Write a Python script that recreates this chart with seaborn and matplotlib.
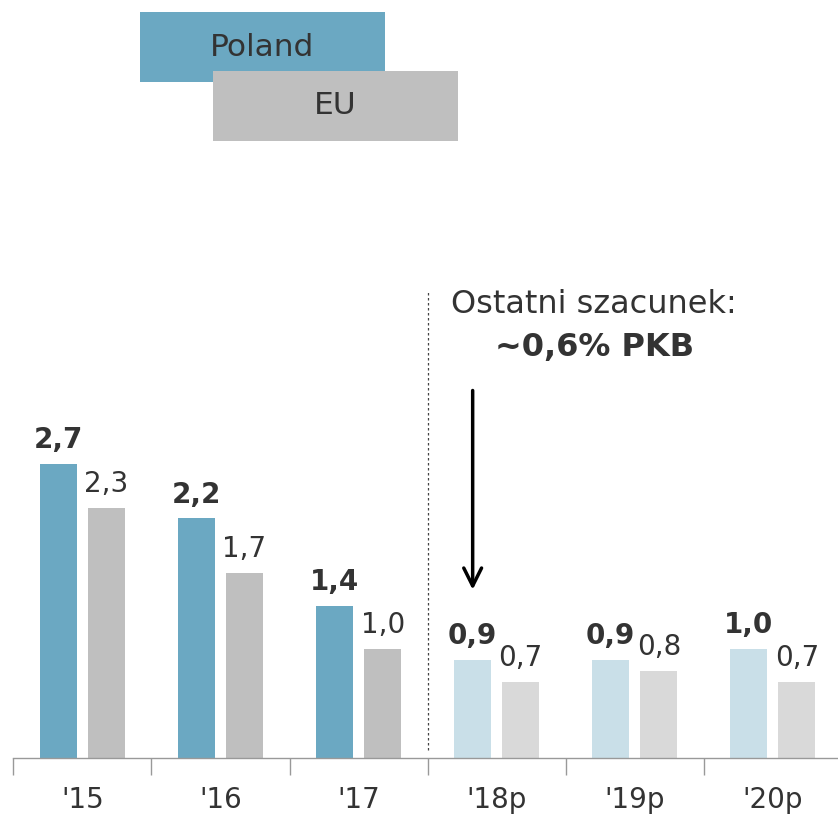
import matplotlib
matplotlib.use('Agg')

import seaborn as sns
import matplotlib.pyplot as plt
import pandas as pd
from matplotlib.patches import Rectangle

years = ["'15", "'16", "'17", "'18p", "'19p", "'20p"]
poland = [2.7, 2.2, 1.4, 0.9, 0.9, 1.0]
eu = [2.3, 1.7, 1.0, 0.7, 0.8, 0.7]
forecast = [False, False, False, True, True, True]

POLAND_COLOR = '#6ba8c2'
EU_COLOR = '#bfbfbf'
POLAND_LIGHT = '#c9dfe8'
EU_LIGHT = '#d9d9d9'
TEXT_COLOR = '#333333'

W, H = 838, 817


def fig_box(x0, y0, x1, y1):
    # pixel box (top-left origin) -> figure fraction
    return x0 / W, 1 - y1 / H, (x1 - x0) / W, (y1 - y0) / H


if __name__ == "__main__":
    sns.set_theme(style='white')
    plt.rcParams['font.family'] = ['DejaVu Sans']

    df = pd.DataFrame({
        'year': years * 2,
        'value': poland + eu,
        'series': ['Poland'] * len(years) + ['EU'] * len(years),
    })

    fig = plt.figure(figsize=(W / 100, H / 100), dpi=100)
    ax = fig.add_axes([13.4 / W, 1 - 758 / H, 828.5 / W, 758 / H])

    sns.barplot(data=df, x='year', y='value', hue='series',
                palette=[POLAND_COLOR, EU_COLOR], width=0.696, gap=0.23,
                saturation=1, linewidth=0, legend=False, ax=ax)

    # lighter colours for forecast years
    for bar, is_fc in zip(ax.containers[0], forecast):
        if is_fc:
            bar.set_facecolor(POLAND_LIGHT)
    for bar, is_fc in zip(ax.containers[1], forecast):
        if is_fc:
            bar.set_facecolor(EU_LIGHT)

    fmt = lambda v: f'{v:.1f}'.replace('.', ',')
    ax.bar_label(ax.containers[0], labels=[fmt(v) for v in poland],
                 padding=7, fontsize=20, fontweight='bold', color=TEXT_COLOR)
    ax.bar_label(ax.containers[1], labels=[fmt(v) for v in eu],
                 padding=7, fontsize=20, color=TEXT_COLOR)

    ax.set_xlim(-0.5, 5.5)
    ax.set_ylim(0, 758 / 108.9)
    ax.set_xlabel('')
    ax.set_ylabel('')
    ax.set_yticks([])
    for side in ['left', 'top', 'right']:
        ax.spines[side].set_visible(False)
    ax.spines['bottom'].set_color('#999999')
    ax.spines['bottom'].set_linewidth(1)

    ax.set_xticks(range(len(years)))
    ax.set_xticklabels(years, fontsize=20, color=TEXT_COLOR)
    ax.set_xticks([i - 0.5 for i in range(len(years) + 1)], minor=True)
    ax.tick_params(axis='x', which='major', length=0, pad=20)
    ax.tick_params(axis='x', which='minor', length=12, width=1,
                   color='#999999', direction='out', bottom=True)

    # divider between actual and forecast
    ax.plot([2.5, 2.5], [0.07, 4.28], color='#444444', lw=0.9,
            linestyle=(0, (2, 2)))

    ax.annotate('', xy=(2.826, 1.52), xytext=(2.826, 3.40),
                arrowprops=dict(arrowstyle='->', lw=2.5, color='black',
                                mutation_scale=32))
    ax.text(3.707, 4.16, 'Ostatni szacunek:', fontsize=23,
            color=TEXT_COLOR, ha='center', va='center')
    ax.text(3.707, 3.77, '~0,6% PKB', fontsize=23, fontweight='bold',
            color=TEXT_COLOR, ha='center', va='center')

    # legend boxes
    for (x0, y0, x1, y1), color, label in [
            ((140, 12, 385, 82), POLAND_COLOR, 'Poland'),
            ((213, 71, 458, 141), EU_COLOR, 'EU')]:
        bx, by, bw, bh = fig_box(x0, y0, x1, y1)
        fig.patches.append(Rectangle((bx, by), bw, bh, transform=fig.transFigure,
                                     facecolor=color, edgecolor='none', zorder=1))
        fig.text(bx + bw / 2, by + bh / 2, label, fontsize=22.5,
                 color=TEXT_COLOR, ha='center', va='center', zorder=2)

    plt.savefig('out.png', dpi=100)
